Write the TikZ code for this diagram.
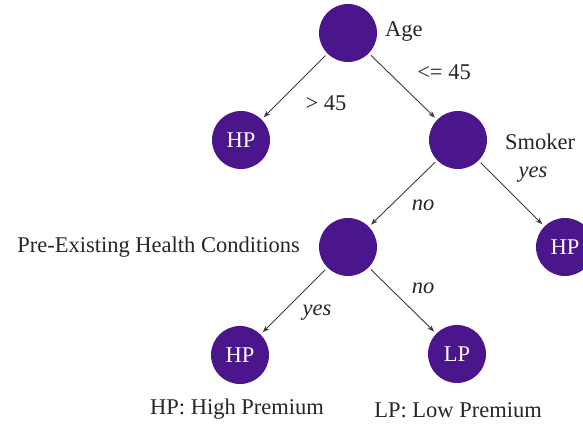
\documentclass[tikz,border=0pt]{standalone}
\usepackage{fontspec}
\setmainfont{Liberation Serif}
\usetikzlibrary{arrows.meta}
\definecolor{treepurple}{RGB}{75,22,140}
\definecolor{edgegray}{RGB}{60,60,60}
\begin{document}
\begin{tikzpicture}[x=1pt,y=-1pt,
  leaf/.style={circle,fill=treepurple,minimum size=58pt,inner sep=0pt,outer sep=3pt,text=white,font=\fontsize{22.5}{22.5}\selectfont},
  lbl/.style={font=\fontsize{22.5}{22.5}\selectfont,text=black!85,inner sep=0pt},
  ilbl/.style={lbl,font=\fontsize{22.5}{22.5}\selectfont\itshape},
  arr/.style={draw=edgegray,line width=0.9pt,-{Stealth[length=7pt,width=5pt]}}]
\useasboundingbox (0,0) rectangle (583,425);
\fill[white] (0,0) rectangle (583,425);
% nodes
\node[leaf] (root) at (348,33) {};
\node[leaf] (hpa) at (241,140) {HP};
\node[leaf] (smoke) at (458,140) {};
\node[leaf] (pre) at (348,247) {};
\node[leaf] (hpb) at (565,247) {HP};
\node[leaf] (hpc) at (240,355) {HP};
\node[leaf] (lp) at (457,354) {LP};
% labels
\node[lbl,anchor=west] (agel) at (385,32) {Age};
\node[lbl] (gt) at (326,103) {> 45};
\node[lbl] (le) at (444,72) {<= 45};
\node[lbl] (smokel) at (540,142) {Smoker};
\node[ilbl] (yesa) at (533,175) {yes};
\node[ilbl] (noa) at (423,205) {no};
\node[lbl,anchor=east] (prel) at (300,247) {Pre-Existing Health Conditions};
\node[ilbl] (nob) at (423,288) {no};
\node[ilbl] (yesb) at (317,313) {yes};
\node[lbl] (hpkey) at (237,409) {HP: High Premium};
\node[lbl] (lpkey) at (458,410) {LP: Low Premium};
% edges
\draw[arr] (root) -- (hpa);
\draw[arr] (root) -- (smoke);
\draw[arr] (smoke) -- (pre);
\draw[arr] (smoke) -- (hpb);
\draw[arr] (pre) -- (hpc);
\draw[arr] (pre) -- (lp);
\end{tikzpicture}
\end{document}
